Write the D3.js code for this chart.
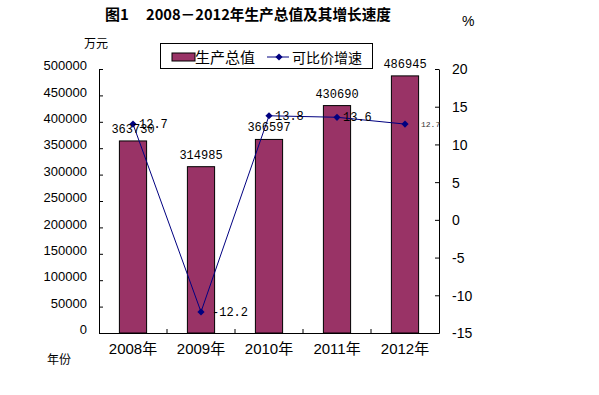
<!DOCTYPE html>
<html><head><meta charset="utf-8">
<script src="https://cdn.jsdelivr.net/npm/d3@7/dist/d3.min.js"></script>
<style>
body{margin:0;background:#fff;}
svg{display:block;}
</style></head>
<body>
<script>
const categories = ["2008年","2009年","2010年","2011年","2012年"];
const gdpValues = [363730, 314985, 366597, 430690, 486945];
const growthValues = [12.7, -12.2, 13.8, 13.6, 12.7];
const leftTicks = [0,50000,100000,150000,200000,250000,300000,350000,400000,450000,500000];
const rightTicks = [-15,-10,-5,0,5,10,15,20];
const titleNo = "图1";
const titleText = "2008－2012年生产总值及其增长速度";
const legendNames = ["生产总值","可比价增速"];

const W=599,H=395;
const svg=d3.select("body").append("svg").attr("width",W).attr("height",H);
const L=99,R=439,T=69,B=333;
const numFont="'Liberation Sans', Arial, sans-serif";
const cjkFont="'Liberation Sans','Noto Sans CJK SC',sans-serif";
const monoFont="'Liberation Mono','DejaVu Sans Mono',monospace";

const x=d3.scaleBand().domain(categories).range([L,R]).paddingInner(0.6).paddingOuter(0.3);
const y=d3.scaleLinear().domain([0,500000]).range([B,T]);
const y2=d3.scaleLinear().domain([-15,20]).range([B,T]);
const cx=c=>x(c)+x.bandwidth()/2;

// title
svg.append("text").attr("x",105).attr("y",20).attr("font-family","'Noto Sans CJK SC',sans-serif")
  .attr("font-weight","bold").attr("font-size",15).text(titleNo);
svg.append("text").attr("x",146).attr("y",20).attr("font-family","'Noto Sans CJK SC',sans-serif")
  .attr("font-weight","bold").attr("font-size",15).attr("textLength",245).attr("lengthAdjust","spacingAndGlyphs").text(titleText);
svg.append("text").attr("x",462).attr("y",26).attr("font-family",numFont).attr("font-size",14).text("%");
svg.append("text").attr("x",84).attr("y",48).attr("font-family","'Noto Sans CJK SC',sans-serif").attr("font-size",12).text("万元");
svg.append("text").attr("x",47).attr("y",364).attr("font-family","'Noto Sans CJK SC',sans-serif").attr("font-size",12).text("年份");

// bars
svg.selectAll("rect.bar").data(gdpValues).enter().append("rect")
  .attr("x",(d,i)=>x(categories[i])).attr("y",d=>y(d))
  .attr("width",x.bandwidth()).attr("height",d=>B-y(d))
  .attr("fill","#993366").attr("stroke","#000").attr("stroke-width",1);

// axes
const plain=d=>String(d);
const gL=svg.append("g").attr("transform",`translate(${L},0)`)
  .call(d3.axisLeft(y).tickValues(leftTicks).tickSizeInner(-4).tickSizeOuter(0).tickPadding(12).tickFormat(plain));
const gR=svg.append("g").attr("transform",`translate(${R},0)`)
  .call(d3.axisRight(y2).tickValues(rightTicks).tickSizeInner(-4).tickSizeOuter(0).tickPadding(13).tickFormat(plain));
const gB=svg.append("g").attr("transform",`translate(0,${B})`)
  .call(d3.axisBottom(x).tickSize(0).tickPadding(10));
[gL,gR,gB].forEach(g=>{g.select(".domain").attr("stroke","#000").attr("stroke-width",1);g.selectAll("line").attr("stroke","#000");});
gL.selectAll("text").attr("font-family",numFont).attr("font-size",13).attr("fill","#000").attr("dy","0.05em");
gR.selectAll("text").attr("font-family",numFont).attr("font-size",14).attr("fill","#000").attr("dy","0.35em");
gB.selectAll("text").attr("font-family",cjkFont).attr("font-size",15).attr("fill","#000").attr("dy","0.71em");
// category boundary ticks
const bounds=categories.map(c=>x(c)-x.step()*x.paddingInner()/2).slice(1);
svg.selectAll("line.ct").data(bounds).enter().append("line")
  .attr("x1",d=>d).attr("x2",d=>d).attr("y1",B).attr("y2",B-4).attr("stroke","#000");

// line
const line=d3.line().x((d,i)=>cx(categories[i])).y(d=>y2(d));
svg.append("path").datum(growthValues).attr("d",line).attr("fill","none").attr("stroke","#000080").attr("stroke-width",1);
const diamond=d3.symbol(d3.symbolSquare,26);
svg.selectAll("path.mk").data(growthValues).enter().append("path")
  .attr("d",diamond).attr("fill","#000080")
  .attr("transform",(d,i)=>`translate(${cx(categories[i])},${y2(d)}) rotate(45)`);

// bar labels
svg.selectAll("text.bl").data(gdpValues).enter().append("text")
  .attr("x",(d,i)=>cx(categories[i])).attr("y",d=>y(d)-8).attr("text-anchor","middle")
  .attr("font-family",monoFont).attr("font-size",12).attr("fill","#000").text(d=>d);

// growth labels
svg.selectAll("text.gl").data(growthValues).enter().append("text")
  .attr("x",(d,i)=>cx(categories[i])+(i===4?16:(d<0?11:6))).attr("y",d=>y2(d))
  .attr("dy","0.35em")
  .attr("font-family",monoFont).attr("font-size",(d,i)=>i===4?8:12).attr("fill",(d,i)=>i===4?"#333":"#000")
  .text(d=>d.toFixed(1));

// legend
const lg=svg.append("g");
lg.append("rect").attr("x",160.5).attr("y",43.5).attr("width",212).attr("height",25).attr("fill","#fff").attr("stroke","#000");
lg.append("rect").attr("x",172).attr("y",53).attr("width",23).attr("height",8).attr("fill","#993366").attr("stroke","#000");
lg.append("text").attr("x",195).attr("y",62.5).attr("font-family","'Noto Sans CJK SC',sans-serif").attr("font-size",15).text(legendNames[0]);
lg.append("line").attr("x1",267).attr("x2",289).attr("y1",57).attr("y2",57).attr("stroke","#000080");
lg.append("path").attr("d",diamond).attr("fill","#000080").attr("transform","translate(279,57) rotate(45)");
lg.append("text").attr("x",292).attr("y",62.5).attr("font-family","'Noto Sans CJK SC',sans-serif").attr("font-size",14).text(legendNames[1]);
</script>
</body></html>
